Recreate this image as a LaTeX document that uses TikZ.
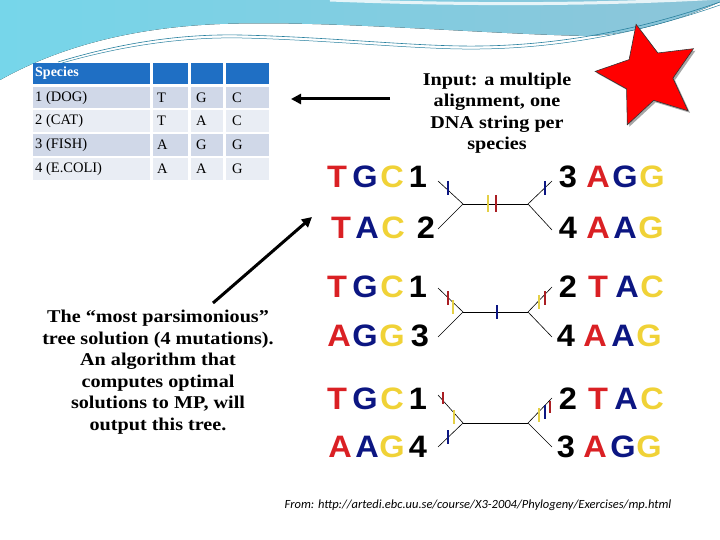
\documentclass[tikz,border=0pt]{standalone}
\usepackage{fontspec}
\setmainfont{Liberation Serif}
\setsansfont{Liberation Sans}
\newfontfamily\capfont{Liberation Serif}[FakeStretch=1.12]
\newfontfamily\dnafont{Liberation Sans}[FakeStretch=1.05]
\newfontfamily\footfont{Carlito}
\usetikzlibrary{arrows.meta}
\definecolor{hdr}{RGB}{31,111,196}
\definecolor{rowA}{RGB}{208,216,232}
\definecolor{rowB}{RGB}{233,237,244}
\definecolor{dred}{RGB}{218,32,36}
\definecolor{dblue}{RGB}{12,22,130}
\definecolor{dyel}{RGB}{240,210,55}
\definecolor{tred}{RGB}{170,30,35}
\definecolor{tyel}{RGB}{228,208,70}
\definecolor{sky}{RGB}{140,196,216}
\definecolor{skyL}{RGB}{118,214,234}
\definecolor{tealline}{RGB}{40,128,158}
\tikzset{
  celltext/.style={anchor=west, inner sep=0pt, font=\fontsize{14.5}{16}\selectfont},
  hdrtext/.style={celltext, text=white, font=\bfseries\fontsize{14}{16}\selectfont},
  dna/.style={inner sep=0pt, font=\dnafont\bfseries\fontsize{31}{31}\selectfont},
  caption/.style={align=center, inner sep=0pt, font=\capfont\bfseries\fontsize{18}{21.5}\selectfont},
  branch/.style={line width=0.6pt, black},
  tickmark/.style={line width=2.4pt},
  bigarrow/.style={line width=3pt, -{Triangle[length=10pt,width=10pt]}},
}
\begin{document}
\begin{tikzpicture}[x=1pt,y=-1pt]
\useasboundingbox (0,0) rectangle (720,540);
% background swoosh
\fill[left color=skyL, right color=sky] (0,0) -- (720,0) -- (720,2)
  .. controls (680,20) and (630,34) .. (590,36)
  .. controls (480,34) and (330,20) .. (220,24)
  .. controls (120,28) and (50,52) .. (0,80) -- cycle;
\draw[white, line width=3pt, opacity=0.8] (330,0) .. controls (480,6) and (620,4) .. (720,-2);
\draw[tealline, line width=0.6pt] (58,62) .. controls (130,40) and (190,34) .. (240,35)
  .. controls (330,37) and (420,47) .. (480,46) .. controls (560,45) and (640,30) .. (720,2);
\draw[tealline, line width=0.5pt] (62,63) .. controls (132,43) and (192,37) .. (242,38)
  .. controls (330,40) and (420,50) .. (480,49) .. controls (560,48) and (640,33) .. (720,5);

% table
\fill[hdr] (33,63) rectangle (150,84);
\fill[hdr] (153,63) rectangle (188,84);
\fill[hdr] (191,63) rectangle (223,84);
\fill[hdr] (226,63) rectangle (269,84);
\foreach \ya/\yb/\cl in {87/108.5/rowA, 110.5/132/rowB, 134/156/rowA, 158/180/rowB}{
  \fill[\cl] (33,\ya) rectangle (150,\yb);
  \fill[\cl] (153,\ya) rectangle (188,\yb);
  \fill[\cl] (191,\ya) rectangle (223,\yb);
  \fill[\cl] (226,\ya) rectangle (269,\yb);
}
\node[hdrtext] (hspecies) at (35,73.5) {Species};
\foreach \r/\y/\s/\p/\q/\t in {1/98/{1 (DOG)}/T/G/C, 2/121/{2 (CAT)}/T/A/C, 3/145/{3 (FISH)}/A/G/G, 4/169/{4 (E.COLI)}/A/A/G}{
  \node[celltext] (sp\r) at (35,\y) {\s};
  \node[celltext] (ca\r) at (157,\y) {\p};
  \node[celltext] (cb\r) at (196,\y) {\q};
  \node[celltext] (cc\r) at (232,\y) {\t};
}

% captions
\node[caption] (input) at (497,113) {Input: a multiple\\alignment, one\\DNA string per\\species};
\node[caption] (mp) at (158,372) {The “most parsimonious”\\tree solution (4 mutations).\\An algorithm that\\computes optimal\\solutions to MP, will\\output this tree.};

% arrows
\coordinate (a1s) at (390,99);
\coordinate (a1e) at (291,99);
\draw[bigarrow] (a1s) -- (a1e);
\coordinate (a2s) at (213,303);
\coordinate (a2e) at (312,217);
\draw[bigarrow] (a2s) -- (a2e);

% star
\begin{scope}[shift={(650,78)}]
\fill[black!35] (-103:53) -- (-67:25) -- (-31:53) -- (5:25) -- (41:53) -- (77:25) -- (113:53) -- (149:25) -- (185:53) -- (221:25) -- cycle;
\end{scope}
\begin{scope}[shift={(648,76)}]
\filldraw[fill=red, draw=black!80, line width=0.6pt] (-103:53) -- (-67:25) -- (-31:53) -- (5:25) -- (41:53) -- (77:25) -- (113:53) -- (149:25) -- (185:53) -- (221:25) -- cycle;
\end{scope}

% DNA letters, left side
\foreach \n/\y/\a/\b/\c/\d/\xa/\xb/\xc/\xd in {
  1/176.5/T/G/C/1/337/365/392/418,
  2/228/T/A/C/2/341/367/393/426,
  3/287/T/G/C/1/337/365/392/418,
  4/336/A/G/G/3/339/365/392/420,
  5/399/T/G/C/1/337/365/392/418,
  6/447/A/A/G/4/340/367/392/418}{
  \node[dna,text=dred] (la\n) at (\xa,\y) {\a};
  \node[dna,text=dblue] (lb\n) at (\xb,\y) {\b};
  \node[dna,text=dyel] (lc\n) at (\xc,\y) {\c};
  \node[dna,text=black] (ld\n) at (\xd,\y) {\d};
}
% DNA letters, right side
\foreach \n/\y/\d/\a/\b/\c/\xd/\xa/\xb/\xc in {
  1/176.5/3/A/G/G/568/598/625/652,
  2/228/4/A/A/G/568/598/625/651,
  3/287/2/T/A/C/568/598/627/652,
  4/336/4/A/A/G/566/595/623/649,
  5/399/2/T/A/C/568/598/626/652,
  6/447/3/A/G/G/566/595/623/649}{
  \node[dna,text=black] (rd\n) at (\xd,\y) {\d};
  \node[dna,text=dred] (ra\n) at (\xa,\y) {\a};
  \node[dna,text=dblue] (rb\n) at (\xb,\y) {\b};
  \node[dna,text=dyel] (rc\n) at (\xc,\y) {\c};
}

% tree branches
\foreach \k/\yu/\yd/\yj/\ru/\rd in {1/181/229/204/181/230, 2/288/337/312/287/337, 3/395/447/423/398/447}{
  \coordinate (u\k) at (438,\yu);
  \coordinate (d\k) at (438,\yd);
  \coordinate (jl\k) at (463,\yj);
  \coordinate (jr\k) at (528,\yj);
  \coordinate (ru\k) at (552,\ru);
  \coordinate (rd\k) at (552,\rd);
  \draw[branch] (u\k) -- (jl\k) -- (d\k);
  \draw[branch] (jl\k) -- (jr\k);
  \draw[branch] (ru\k) -- (jr\k) -- (rd\k);
}

% mutation ticks
\foreach \x/\y/\cl/\h in {
  448/188/dblue/14, 488/204/tyel/17, 496/204/tred/17, 545/188/dblue/14,
  448/298/tred/14, 453/307/tyel/14, 497/312/dblue/14, 539/302/tyel/14, 545/298/tred/14,
  443/398/tred/12, 454/417/tyel/14, 448/437/dblue/14, 539/415/tyel/14, 545/412/dblue/14, 550/407/tred/12}{
  \draw[tickmark,\cl] (\x,\y) ++(0,-\h/2) -- ++(0,\h);
}

% footer
\node[inner sep=0pt, font=\footfont\itshape\fontsize{12.5}{14}\selectfont] (src) at (478,505) {From: http://artedi.ebc.uu.se/course/X3-2004/Phylogeny/Exercises/mp.html};
\end{tikzpicture}
\end{document}
